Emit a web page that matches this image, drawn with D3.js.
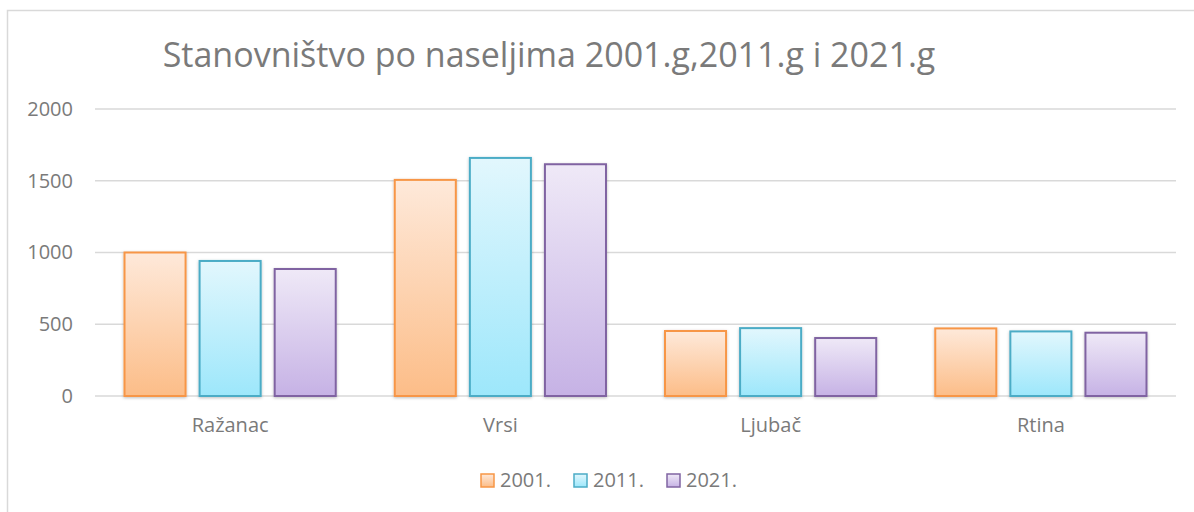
<!DOCTYPE html>
<html>
<head>
<meta charset="utf-8">
<script src="https://cdn.jsdelivr.net/npm/d3@7"></script>
<style>
  body { margin: 0; background: #fff; }
  text { font-family: "Open Sans", "Noto Sans", sans-serif; fill: #7a7a7a; }
</style>
</head>
<body>
<script>
// Chart data
const categories = ["Ražanac", "Vrsi", "Ljubač", "Rtina"];
const seriesNames = ["2001.", "2011.", "2021."];
const values2001 = [1000, 1506, 453, 471];
const values2011 = [941, 1659, 473, 450];
const values2021 = [885, 1615, 404, 441];
const yTicks = [0, 500, 1000, 1500, 2000];
const title = "Stanovništvo po naseljima 2001.g,2011.g i 2021.g";

const WIDTH = 1194;
const HEIGHT = 512;

// colours per series: [stroke, gradient top, gradient bottom]
const colors = [
    ["#f79646", "#fee9da", "#fcbd88"],
    ["#4bacc6", "#e2f7fd", "#9de7fb"],
    ["#8064a2", "#efe9f7", "#c6b2e5"]
];

const plot = {left: 95, right: 1176, top: 109, bottom: 396};

const svg = d3.select("body").append("svg")
    .attr("width", WIDTH)
    .attr("height", HEIGHT);

const defs = svg.append("defs");
colors.forEach((c, i) => {
    let g = defs.append("linearGradient")
        .attr("id", "grad" + i)
        .attr("x1", 0).attr("y1", 0).attr("x2", 0).attr("y2", 1);
    g.append("stop").attr("offset", "0%").attr("stop-color", c[1]);
    g.append("stop").attr("offset", "100%").attr("stop-color", c[2]);
});
let shadow = defs.append("filter").attr("id", "shadow")
    .attr("x", "-20%").attr("y", "-20%").attr("width", "140%").attr("height", "140%");
shadow.append("feDropShadow")
    .attr("dx", 0).attr("dy", 1).attr("stdDeviation", 1.5)
    .attr("flood-color", "#000").attr("flood-opacity", 0.25);

// outer chart border (runs off the right and bottom edge)
svg.append("path")
    .attr("d", `M7.5,${HEIGHT + 5} L7.5,10.5 L${WIDTH + 5},10.5`)
    .attr("fill", "none")
    .attr("stroke", "#d9d9d9")
    .attr("stroke-width", 1.5);

// Scales
const x0 = d3.scaleBand()
    .domain(categories)
    .range([plot.left, plot.right])
    .paddingInner(0)
    .paddingOuter(0);

const x1 = d3.scaleBand()
    .domain(seriesNames)
    .range([0, x0.bandwidth()])
    .paddingInner(0.187)
    .paddingOuter(0.393);

const y = d3.scaleLinear()
    .domain([0, 2000])
    .range([plot.bottom, plot.top]);

// gridlines
svg.append("g")
    .selectAll("line")
    .data(yTicks)
    .enter()
    .append("line")
    .attr("x1", plot.left)
    .attr("x2", plot.right)
    .attr("y1", d => y(d))
    .attr("y2", d => y(d))
    .attr("stroke", "#d9d9d9")
    .attr("stroke-width", 1.5);

// y axis labels
const yAxis = d3.axisLeft(y).tickValues(yTicks).tickFormat(d3.format("d")).tickSize(0).tickPadding(0);
const yG = svg.append("g")
    .attr("transform", `translate(73,0)`)
    .call(yAxis);
yG.select(".domain").remove();
yG.selectAll("text")
    .attr("font-size", 20)
    .attr("fill", "#7a7a7a")
    .style("font-family", '"Open Sans", sans-serif');

// bars
const series = [values2001, values2011, values2021];
const groups = svg.append("g")
    .selectAll("g")
    .data(categories)
    .enter()
    .append("g")
    .attr("transform", d => `translate(${x0(d)},0)`);

groups.selectAll("rect")
    .data((d, ci) => seriesNames.map((s, si) => ({s: s, si: si, v: series[si][ci]})))
    .enter()
    .append("rect")
    .attr("x", d => x1(d.s))
    .attr("y", d => y(d.v))
    .attr("width", x1.bandwidth())
    .attr("height", d => y(0) - y(d.v))
    .attr("fill", d => `url(#grad${d.si})`)
    .attr("stroke", d => colors[d.si][0])
    .attr("stroke-width", 2)
    .attr("filter", "url(#shadow)");

// category labels
const xAxis = d3.axisBottom(x0).tickSize(0).tickPadding(0);
const xG = svg.append("g")
    .attr("transform", `translate(0,${plot.bottom + 22})`)
    .call(xAxis);
xG.select(".domain").remove();
xG.selectAll("text")
    .attr("font-size", 20)
    .attr("fill", "#7a7a7a")
    .style("font-family", '"Open Sans", sans-serif');

// title
svg.append("text")
    .attr("x", 549)
    .attr("y", 67)
    .attr("text-anchor", "middle")
    .attr("font-size", 34)
    .text(title);

// legend
const legendX = [481, 574, 667];
const legend = svg.append("g")
    .selectAll("g")
    .data(seriesNames)
    .enter()
    .append("g")
    .attr("transform", (d, i) => `translate(${legendX[i]},474)`);

legend.append("rect")
    .attr("width", 13)
    .attr("height", 13)
    .attr("fill", (d, i) => `url(#grad${i})`)
    .attr("stroke", (d, i) => colors[i][0])
    .attr("stroke-width", 1.5);

legend.append("text")
    .attr("x", 19)
    .attr("y", 13)
    .attr("font-size", 20)
    .text(d => d);
</script>
</body>
</html>
